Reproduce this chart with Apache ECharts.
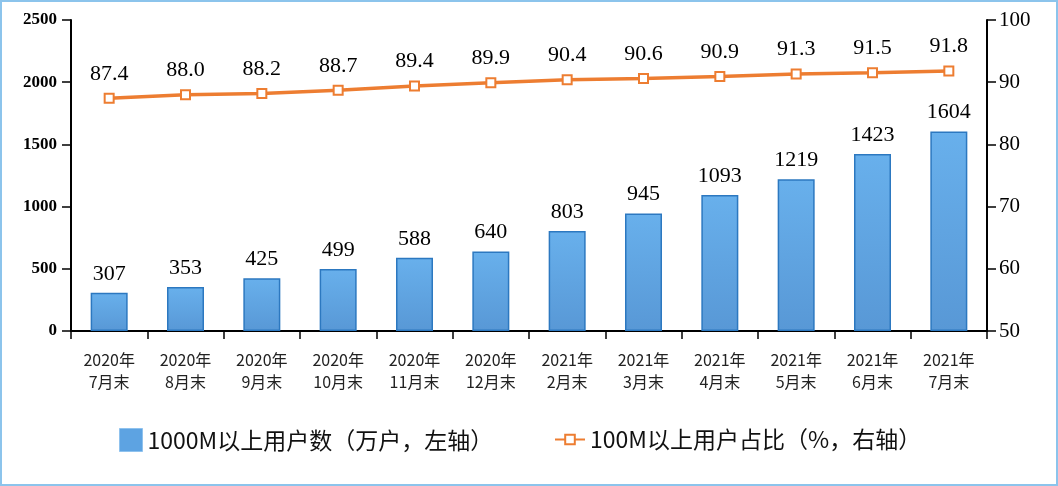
<!DOCTYPE html>
<html><head><meta charset="utf-8">
<script src="https://cdn.jsdelivr.net/npm/echarts@6/dist/echarts.min.js"></script>
<style>html,body{margin:0;padding:0;background:#fff}#c{width:1058px;height:486px}</style>
</head><body><div id="c"></div>
<script>
const categories = ['2020年\n7月末','2020年\n8月末','2020年\n9月末','2020年\n10月末','2020年\n11月末','2020年\n12月末','2021年\n2月末','2021年\n3月末','2021年\n4月末','2021年\n5月末','2021年\n6月末','2021年\n7月末'];
const users1000M = [307,353,425,499,588,640,803,945,1093,1219,1423,1604];
const share100M = [87.4,88.0,88.2,88.7,89.4,89.9,90.4,90.6,90.9,91.3,91.5,91.8];
const barName = '1000M以上用户数（万户，左轴）';
const lineName = '100M以上用户占比（%，右轴）';

const chart = echarts.init(document.getElementById('c'));
const legendText = {fontFamily:'Noto Sans CJK SC', fontSize:23, color:'#111'};
chart.setOption({
  animation: false,
  backgroundColor: '#fff',
  graphic: [{type:'rect', shape:{x:1,y:1,width:1056,height:484}, style:{fill:'none', stroke:'#8cc4ec', lineWidth:2}, silent:true}],
  grid: {left:71, right:71, top:20, bottom:155},
  legend: [
    {left: 114, top: 423, itemWidth: 23, itemHeight: 23, itemGap: 10, textStyle: legendText,
     data: [{name: barName, icon:'rect', itemStyle:{color:'#5da3e2', borderColor:'#8fc2ee', borderWidth:1}}]},
    {left: 549, top: 423, itemWidth: 30, itemHeight: 12, textStyle: legendText,
     data: [{name: lineName}]}
  ],
  xAxis: {
    type:'category', data: categories,
    axisLine:{lineStyle:{color:'#000', width:2}},
    axisTick:{show:true, inside:false, length:8, lineStyle:{color:'#000', width:1.5}},
    axisLabel:{fontFamily:'Noto Sans CJK SC', fontSize:16, color:'#222', lineHeight:22, margin:18}
  },
  yAxis: [
    {type:'value', min:0, max:2500, interval:500, splitLine:{show:false},
     axisLine:{show:true, lineStyle:{color:'#000', width:2}},
     axisTick:{show:true, length:9, lineStyle:{color:'#000', width:1.5}},
     axisLabel:{fontFamily:'Liberation Serif', fontWeight:'bold', fontSize:17, color:'#000', margin:14, formatter: v => String(v)}},
    {type:'value', min:50, max:100, interval:10, splitLine:{show:false}, position:'right',
     axisLine:{show:true, lineStyle:{color:'#000', width:2}},
     axisTick:{show:true, length:9, lineStyle:{color:'#000', width:1.5}},
     axisLabel:{fontFamily:'Liberation Serif', fontSize:21, color:'#000', margin:12, formatter: v => String(v)}}
  ],
  series: [
    {name: barName, type:'bar', data: users1000M, barWidth:37, yAxisIndex:0,
     itemStyle:{color: new echarts.graphic.LinearGradient(0,0,0,1,[{offset:0,color:'#68b0ec'},{offset:1,color:'#5898d6'}]), borderColor:'#2c78c0', borderWidth:1.5},
     label:{show:true, position:'top', distance:8, fontFamily:'Liberation Serif', fontSize:22, color:'#000'}},
    {name: lineName, type:'line', data: share100M, yAxisIndex:1,
     symbol:'emptyRect', symbolSize:9, showAllSymbol:true,
     lineStyle:{color:'#ed7d31', width:3.5},
     itemStyle:{color:'#ed7d31', borderColor:'#ed7d31', borderWidth:3},
     label:{show:true, position:'top', distance:8, fontFamily:'Liberation Serif', fontSize:22, color:'#000', formatter: p => p.value.toFixed(1)}}
  ]
});
</script></body></html>
